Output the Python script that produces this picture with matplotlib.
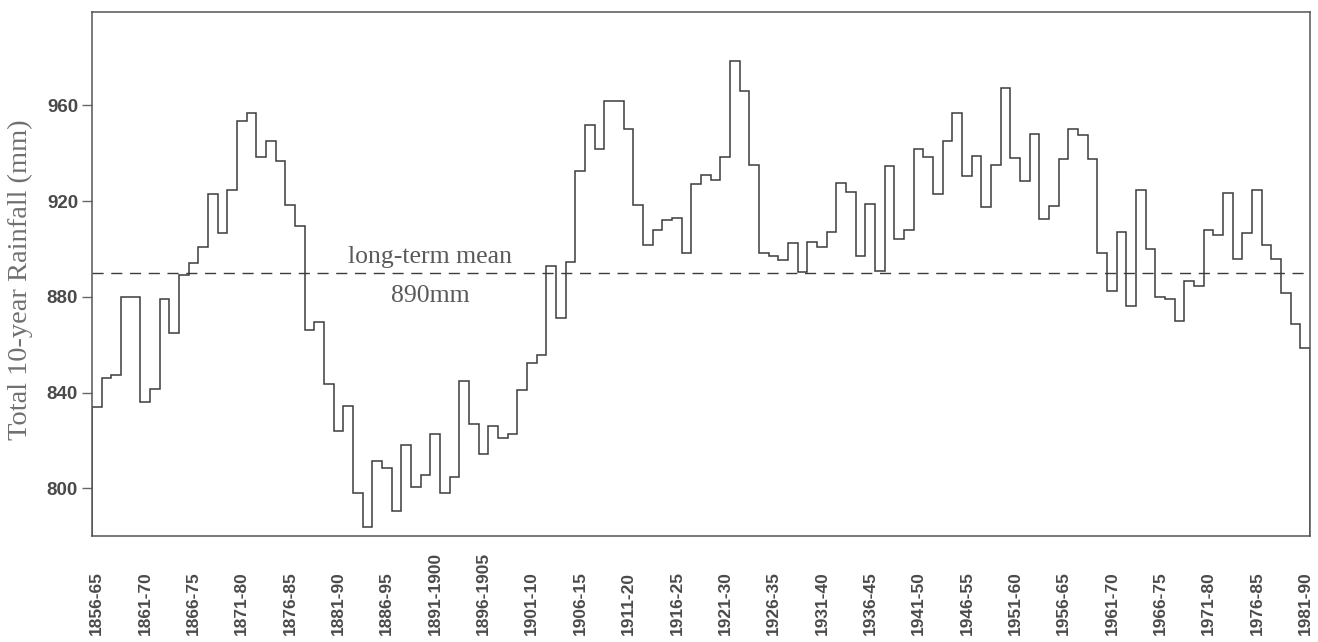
import matplotlib
matplotlib.use("Agg")
import matplotlib.pyplot as plt
import matplotlib.transforms as mtransforms
import numpy as np

# First year of each 10-year window (1856-65 ... 1981-90)
start_years = list(range(1856, 1982))

# Total 10-year rainfall (mm) for each moving window
rain_totals = [
    834, 846, 847.5, 880, 880, 836, 841.5, 879, 865, 889,
    894, 901, 923, 906.5, 924.5, 953.5, 957, 938.5, 945, 937,
    918.5, 909.5, 866, 869.5, 843.5, 824, 834.5, 798, 784, 811.5,
    808.5, 790.5, 818, 800.5, 805.5, 822.5, 798, 804.5, 845, 827,
    814.5, 826, 821, 822.5, 841, 852.5, 855.5, 893, 871, 894.5,
    932.5, 952, 942, 962, 962, 950, 918.5, 901.5, 908, 912,
    913, 898.5, 927, 931, 929, 938.5, 978.5, 966, 935, 898.5,
    897, 895.5, 902.5, 890.5, 903, 901, 907, 927.5, 924, 897,
    919, 891, 934.5, 904, 908, 942, 938.5, 923, 945, 957,
    930.5, 939, 917.5, 935, 967.5, 938, 928.5, 948, 912.5, 918,
    937.5, 950, 947.5, 937.5, 898.5, 882.5, 907, 876, 924.5, 900,
    880, 879, 870, 886.5, 884.5, 908, 906, 923.5, 896, 906.5,
    924.5, 901.5, 896, 881.5, 868.5, 858.5,
]

long_term_mean = 890
y_ticks = [800, 840, 880, 920, 960]
label_years = list(range(1856, 1982, 5))


def window_label(y):
    end = y + 9
    if end // 100 != y // 100:
        return f"{y}-{end}"
    return f"{y}-{end % 100:02d}"


tick_labels = [window_label(y) for y in label_years]

ink = "#3c3c3c"
tick_col = "#4a4a4a"
soft_col = "#707070"

fig = plt.figure(figsize=(13.18, 6.42), dpi=100)
ax = fig.add_axes([0.0698, 0.165, 0.9242, 0.816])

edges = np.append(np.array(start_years, dtype=float), start_years[-1] + 1)
ax.stairs(rain_totals, edges, color=ink, linewidth=1.1)

ax.axhline(long_term_mean, color=ink, linewidth=1.0, dashes=(8, 5.5))

ax.set_xlim(edges[0], edges[-1])
ax.set_ylim(780, 999)

ax.set_yticks(y_ticks)
ax.set_yticklabels([str(v) for v in y_ticks], fontfamily="Liberation Sans",
                   fontweight="bold", fontsize=13.5, color=tick_col)
ax.tick_params(axis="y", direction="out", length=7, width=1, color="#666666", pad=3)

# Window labels under the axis, each starting from a common baseline
ax.set_xticks([y + 0.5 for y in label_years])
ax.set_xticklabels([])
ax.tick_params(axis="x", length=0)
lab_trans = mtransforms.blended_transform_factory(ax.transData, ax.transAxes)
for yr, lab in zip(label_years, tick_labels):
    ax.text(yr + 0.5, -0.189, lab, rotation=90, ha="center", va="bottom",
            transform=lab_trans, fontfamily="Liberation Sans",
            fontweight="bold", fontsize=12.5, color=tick_col)

for s in ax.spines.values():
    s.set_color("#555555")
    s.set_linewidth(1.1)

ax.set_ylabel("Total 10-year Rainfall (mm)", fontfamily="Liberation Serif",
              fontsize=20.5, color=soft_col)
ax.yaxis.set_label_coords(-0.059, 0.49)
ax.yaxis.label.set_verticalalignment("center")

ax.text(1891.0, 892.0, "long-term mean", ha="center", va="bottom",
        fontfamily="Liberation Serif", fontsize=18.5, color="#5a5a5a")
ax.text(1891.0, 885.0, "890mm", ha="center", va="top",
        fontfamily="Liberation Serif", fontsize=18.5, color="#5a5a5a")

fig.savefig("out.png", dpi=100)
